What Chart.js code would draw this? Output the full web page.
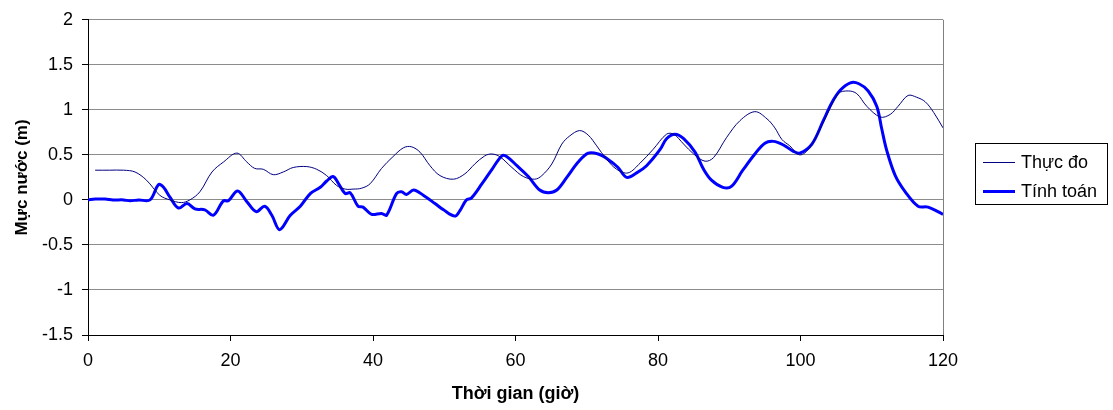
<!DOCTYPE html>
<html>
<head>
<meta charset="utf-8">
<script src="https://cdn.jsdelivr.net/npm/chart.js@4"></script>
<style>
html,body{margin:0;padding:0;background:#fff;}
#wrap{width:1113px;height:410px;}
</style>
</head>
<body>
<div id="wrap"><canvas id="c" width="1113" height="410"></canvas></div>
<script>
const seriesNames = ["Thực đo", "Tính toán"];
const obsTime = [1,3,5,6.6,8.2,10.1,11.5,13.1,14.3,15.7,17.4,19,20.9,22.3,23.4,24.6,26,27.4,28.8,30.7,32.1,33.5,34.9,36.1,37.2,38.4,39.6,41.2,42.8,44.3,45.4,46.6,48,49.4,51.3,52.9,54.3,55.7,56.7,57.8,59.5,61.1,62.7,63.7,65.1,66.5,67.6,69,70.2,71.4,72.8,74.2,75.8,77.5,79.3,81.2,82.2,83.6,85,86.6,87.8,89.6,91.5,93.6,95.3,96.4,97.4,98.5,99.9,101.3,103.2,105.3,106.7,107.9,109.3,111.2,112.6,113.7,115.1,116.3,117.5,118.7,120];
const obsLevel = [0.33,0.33,0.33,0.31,0.22,0.05,0.0,-0.03,0.0,0.09,0.31,0.42,0.52,0.42,0.35,0.34,0.28,0.31,0.36,0.37,0.34,0.27,0.16,0.12,0.12,0.13,0.18,0.35,0.48,0.58,0.59,0.53,0.38,0.27,0.23,0.29,0.40,0.49,0.51,0.48,0.36,0.26,0.23,0.27,0.40,0.62,0.71,0.77,0.72,0.60,0.45,0.34,0.30,0.41,0.56,0.73,0.73,0.62,0.51,0.43,0.47,0.69,0.88,0.98,0.90,0.80,0.67,0.60,0.50,0.58,0.86,1.18,1.21,1.18,1.04,0.92,0.95,1.04,1.16,1.14,1.09,0.97,0.80];
const simTime = [0,1,2.4,3.5,5,5.9,7.1,8.7,9.9,10.6,11.5,12.7,13.9,15,16.4,17.6,19,19.7,21,22.3,23.6,24.8,25.8,26.9,28.4,29.8,31.2,32.6,33.5,34.4,35.1,36.1,36.8,37.9,38.6,39.8,41.2,41.9,43.3,44,44.7,45.7,47.1,48.7,49.9,51.5,52.2,53.1,53.8,55.3,56.7,58.1,58.8,60.2,61.8,63.4,64.6,65.8,67.2,68.8,70.2,71.6,73,74.4,75.6,77,78.4,80.3,81.2,82.4,83.6,85.2,86.4,87.5,89.1,90.3,91.9,93.6,95,96.2,97.6,99,99.9,101.6,103.2,104.4,105.6,107,108.2,109.5,110.7,111.4,112.1,113.3,114.7,116.5,117.9,120];
const simLevel = [0,0.01,0.01,0,0,-0.01,0,0,0.17,0.14,0.03,-0.09,-0.04,-0.1,-0.11,-0.17,-0.01,-0.01,0.1,-0.02,-0.13,-0.07,-0.17,-0.33,-0.17,-0.07,0.07,0.14,0.21,0.26,0.19,0.07,0.08,-0.07,-0.08,-0.16,-0.15,-0.17,0.07,0.09,0.06,0.11,0.05,-0.04,-0.11,-0.18,-0.12,0.0,0.02,0.18,0.34,0.49,0.48,0.38,0.26,0.11,0.08,0.11,0.25,0.42,0.52,0.51,0.45,0.36,0.25,0.30,0.38,0.56,0.68,0.73,0.68,0.53,0.34,0.22,0.14,0.15,0.33,0.51,0.63,0.65,0.61,0.54,0.52,0.62,0.88,1.08,1.22,1.30,1.29,1.21,1.04,0.79,0.55,0.27,0.09,-0.07,-0.08,-0.16];
const xTicks = [0,20,40,60,80,100,120];
const yTicks = [-1.5,-1,-0.5,0,0.5,1,1.5,2];
const xTitle = "Thời gian (giờ)";
const yTitle = "Mực nước (m)";

const FONT = "'Liberation Sans', Arial, sans-serif";
const toPts = (xs, ys) => xs.map((x, i) => ({x: x, y: ys[i]}));

const frame = {
  id: 'frame',
  afterDatasetsDraw(chart) {
    const ctx = chart.ctx, a = chart.chartArea;
    ctx.save();
    ctx.strokeStyle = '#808080';
    ctx.lineWidth = 1;
    ctx.beginPath();
    ctx.moveTo(Math.round(a.right) + 0.5, a.top);
    ctx.lineTo(Math.round(a.right) + 0.5, a.bottom);
    ctx.stroke();
    // legend
    const bx = 975.5, by = 143.5, bw = 132, bh = 61;
    ctx.strokeStyle = '#000';
    ctx.lineWidth = 1;
    ctx.fillStyle = '#fff';
    ctx.fillRect(bx, by, bw, bh);
    ctx.strokeRect(bx, by, bw, bh);
    ctx.font = '18px ' + FONT;
    ctx.textBaseline = 'middle';
    chart.data.datasets.forEach((ds, i) => {
      const y = 162.5 + i * 29;
      ctx.strokeStyle = ds.borderColor;
      ctx.lineWidth = ds.borderWidth;
      ctx.beginPath();
      ctx.moveTo(983, y);
      ctx.lineTo(1015, y);
      ctx.stroke();
      ctx.fillStyle = '#000';
      ctx.fillText(ds.label, 1021, y + 1);
    });
    ctx.restore();
  }
};

new Chart(document.getElementById('c'), {
  type: 'line',
  data: {
    datasets: [
      {label: seriesNames[0], data: toPts(obsTime, obsLevel), borderColor: '#000080', borderWidth: 1, pointRadius: 0, tension: 0.35, fill: false},
      {label: seriesNames[1], data: toPts(simTime, simLevel), borderColor: '#0000FF', borderWidth: 3, pointRadius: 0, tension: 0.35, fill: false}
    ]
  },
  options: {
    responsive: false,
    animation: false,
    layout: {padding: {top: 17, right: 170, left: 0, bottom: 0}},
    plugins: {legend: {display: false}, tooltip: {enabled: false}},
    scales: {
      x: {
        type: 'linear', min: 0, max: 120,
        afterBuildTicks: s => { s.ticks = xTicks.map(v => ({value: v})); },
        afterFit: s => { s.height = 75; },
        grid: {drawOnChartArea: false, drawTicks: true, tickLength: 6, tickColor: '#000'},
        border: {color: '#000', width: 1},
        ticks: {color: '#000', font: {family: FONT, size: 18}, padding: 9, maxRotation: 0, callback: v => String(v)},
        title: {display: true, text: xTitle, color: '#000', font: {family: FONT, size: 18, weight: 'bold'}, padding: {top: 4, bottom: 5}}
      },
      y: {
        type: 'linear', min: -1.5, max: 2,
        afterBuildTicks: s => { s.ticks = yTicks.map(v => ({value: v})); },
        afterFit: s => { s.width = 88; },
        grid: {color: '#8c8c8c', lineWidth: 1, tickLength: 6, tickColor: '#000'},
        border: {color: '#000', width: 1},
        ticks: {color: '#000', font: {family: FONT, size: 18}, padding: 9, callback: v => String(v)},
        title: {display: true, text: yTitle, color: '#000', font: {family: FONT, size: 17, weight: 'bold'}, padding: {top: 12, bottom: 4}}
      }
    }
  },
  plugins: [frame]
});
</script>
</body>
</html>
